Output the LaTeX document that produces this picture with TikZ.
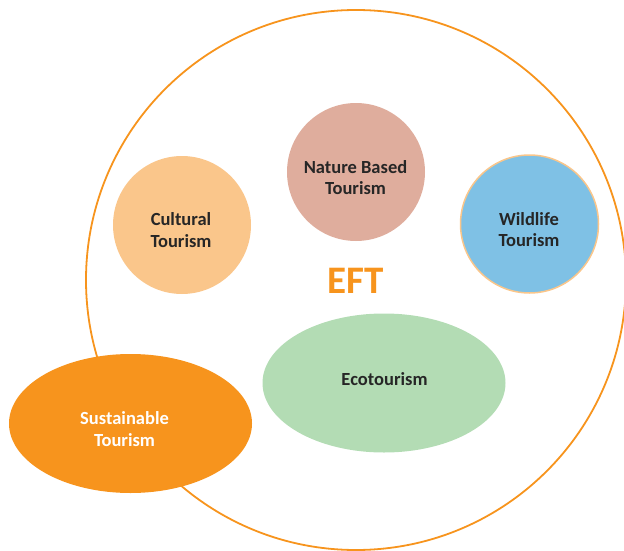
\documentclass[tikz,border=0pt]{standalone}
\usepackage{fontspec}
\setmainfont{Carlito}
\usetikzlibrary{shapes.geometric}
\definecolor{eftorange}{HTML}{F7941D}
\definecolor{culturalc}{HTML}{FAC68B}
\definecolor{naturec}{HTML}{DFAD9D}
\definecolor{wildc}{HTML}{7FC1E5}
\definecolor{ecoc}{HTML}{B3DCB4}
\definecolor{txtc}{HTML}{262626}
\tikzset{
  blob/.style={circle, minimum size=138pt, inner sep=0pt, draw=none},
  oval/.style={ellipse, minimum width=243pt, minimum height=139pt, inner sep=0pt, draw=none},
  lbl/.style={inner sep=0pt, align=center, font=\fontsize{18.5pt}{21.8pt}\selectfont\bfseries, text=txtc},
}
\begin{document}
\begin{tikzpicture}[x=1pt,y=-1pt]
\useasboundingbox (0,0) rectangle (624,551);
\node[circle, minimum size=540pt, inner sep=0pt, draw=eftorange, line width=1.8pt] (big) at (356,280) {};
\node[blob, fill=culturalc] (cult) at (182,225) {};
\node[blob, fill=naturec] (nat) at (356,172) {};
\node[blob, fill=wildc, draw=culturalc, line width=1.5pt] (wild) at (529.5,224) {};
\node[oval, fill=ecoc] (eco) at (384,383) {};
\node[oval, fill=eftorange] (sus) at (130.5,423.5) {};
\node[lbl] (cultt) at (181,230) {Cultural\\Tourism};
\node[lbl] (natt) at (355.5,177.5) {Nature Based\\Tourism};
\node[lbl] (wildt) at (529,229.5) {Wildlife\\Tourism};
\node[lbl] (ecot) at (384.5,379) {Ecotourism};
\node[lbl, text=white] (sust) at (124.5,429) {Sustainable\\Tourism};
\node[inner sep=0pt, font=\fontsize{39pt}{44pt}\selectfont\bfseries, text=eftorange] (eft) at (355.5,280.5) {EFT};
\end{tikzpicture}
\end{document}
